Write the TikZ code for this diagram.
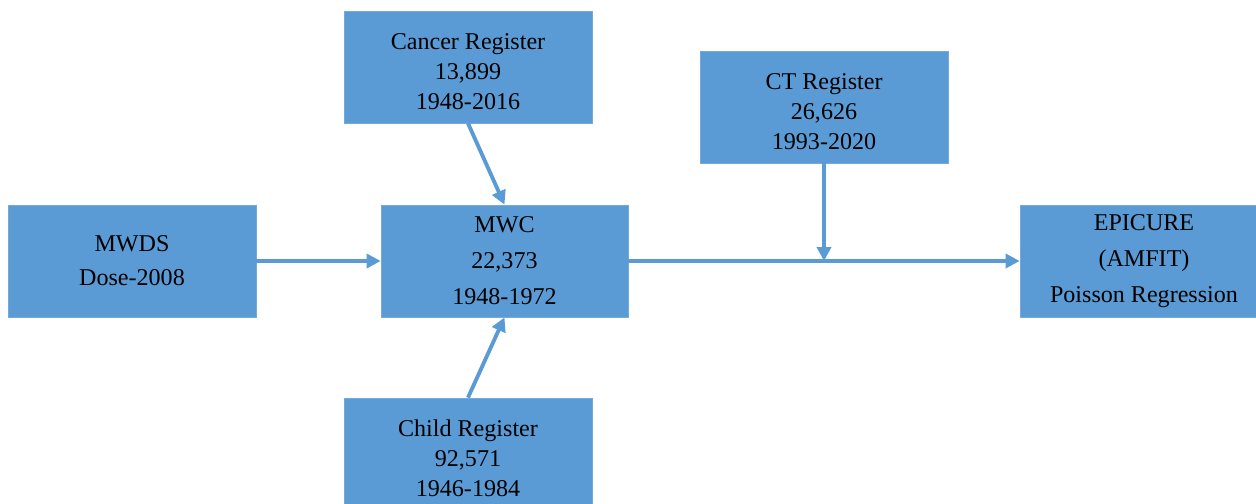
\documentclass[tikz,border=0pt]{standalone}
\usepackage{fontspec}
\setmainfont{Liberation Serif}
\usepackage{tikz}
\usetikzlibrary{positioning,arrows.meta}

\definecolor{boxblue}{HTML}{5B9BD5}
\newcommand{\topgap}{\rule{0pt}{0.5cm}}

\tikzset{
	regbox/.style={draw=boxblue!85!white,
		fill=boxblue,
		minimum width=4.96cm,
		minimum height=2.24cm,
		align=center,
		inner sep=0pt,
		font=\fontsize{13.7}{17}\selectfont},
	flow/.style={draw=boxblue,
		line width=2.2pt,
		-{Triangle[length=0.28cm,width=0.28cm]}}
}

\begin{document}
\begin{tikzpicture}
			\useasboundingbox (0,0) rectangle (25.12,-10.08);
			
			% MWDS
			\node [regbox] (mwds) at (2.64,-5.22) {MWDS\\[2.4pt]Dose-2008};
			
			% MWC
			\node [regbox,
				minimum width=4.94cm
				] (mwc) at (10.09,-5.22) {MWC\\[3.5pt]22,373\\[3.5pt]1948-1972};
			
			% Cancer Register
			\node [regbox] (cancer) at (9.36,-1.34) {\topgap Cancer Register\\13,899\\1948-2016};
			
			% Child Register
			\node [regbox] (child) at (9.36,-9.08) {\topgap Child Register\\92,571\\1946-1984};
			
			% CT Register
			\node [regbox] (ct) at (16.48,-2.14) {\topgap CT Register\\26,626\\1993-2020};
			
			% EPICURE
			\node [regbox] (epi) at (22.88,-5.22) {EPICURE\\[3.5pt](AMFIT)\\[3.5pt]Poisson Regression};
			
			% Arrows
			\coordinate (join) at (ct.south |- mwc.east);
			\draw[flow] (mwds.east) -- (mwc.west);
			\draw[flow] (cancer.south) -- (mwc.north);
			\draw[flow] (child.north) -- (mwc.south);
			\draw[flow] (mwc.east) -- (epi.west);
			\draw[flow] (ct.south) -- (join);
		
		\end{tikzpicture}
\end{document}
